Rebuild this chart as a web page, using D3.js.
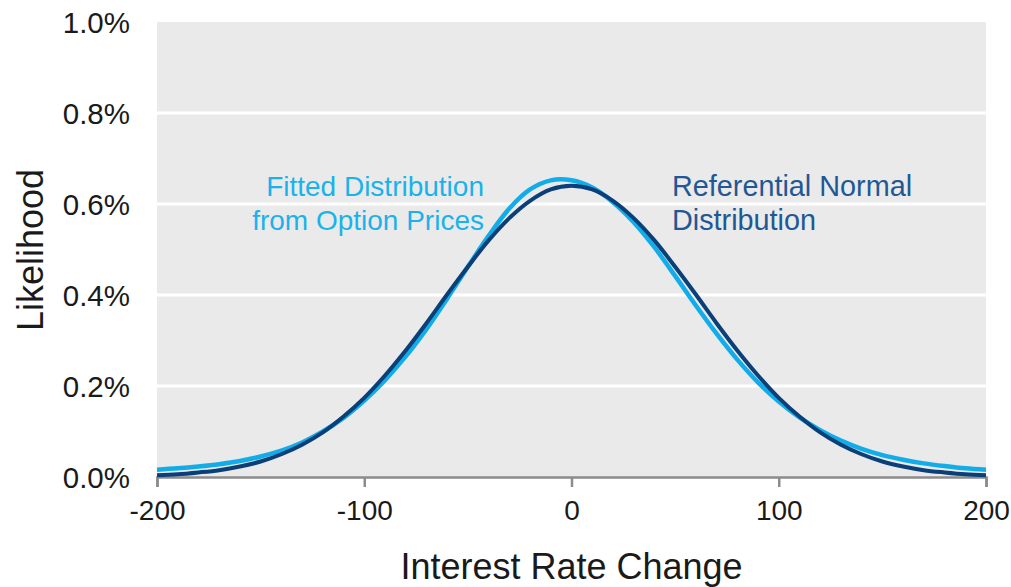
<!DOCTYPE html>
<html>
<head>
<meta charset="utf-8">
<script src="https://cdn.jsdelivr.net/npm/d3@7"></script>
<style>
  body { margin: 0; background: #fff; }
  text { font-family: "Liberation Sans", Arial, sans-serif; }
</style>
</head>
<body>
<div class="main"></div>
<script>
// canvas config
var W = 1011, H = 587;
var margin = {top: 22, right: 25, bottom: 110, left: 157};
var width = W - margin.left - margin.right;   // 829
var height = H - margin.top - margin.bottom;  // 455

// data (x = rate change, y = likelihood in %)
var rateChange = [-200,-190,-180,-170,-160,-150,-140,-130,-120,-110,-100,-90,-80,-70,-60,-50,-40,-30,-20,-10,0,
                  10,20,30,40,50,60,70,80,90,100,110,120,130,140,150,160,170,180,190,200];
var fittedVals = [0.016,0.019,0.023,0.028,0.035,0.045,0.058,0.076,0.100,0.130,0.168,0.213,0.265,0.325,0.392,0.462,0.530,0.590,0.632,0.652,0.652,
                  0.636,0.604,0.560,0.505,0.442,0.377,0.315,0.258,0.208,0.166,0.131,0.103,0.080,0.062,0.048,0.038,0.030,0.024,0.019,0.016];
var normalVals = [0.004,0.006,0.010,0.015,0.023,0.034,0.050,0.071,0.098,0.133,0.174,0.223,0.278,0.338,0.401,0.462,0.520,0.569,0.607,0.632,0.640,
                  0.632,0.607,0.569,0.520,0.462,0.401,0.338,0.278,0.223,0.174,0.133,0.098,0.071,0.050,0.034,0.023,0.015,0.010,0.006,0.004];
var xTicks = [-200,-100,0,100,200];
var yTicks = [0,0.2,0.4,0.6,0.8,1.0];

var svg = d3.select(".main")
  .append("svg")
  .attr("width", W)
  .attr("height", H);
var g = svg.append("g")
  .attr("transform", "translate(" + margin.left + "," + margin.top + ")");

var xScale = d3.scaleLinear().domain([-200, 200]).range([0, width]);
var yScale = d3.scaleLinear().domain([0, 1.0]).range([height, 0]);

// plot background
g.append("rect")
  .attr("x", 0).attr("y", 0)
  .attr("width", width).attr("height", height)
  .style("fill", "#eaeaea");

// white gridlines
g.append("g").attr("class", "grid")
  .selectAll("line")
  .data(yTicks.filter(function(d) { return d > 0 && d < 1; }))
  .enter().append("line")
  .attr("x1", 0).attr("x2", width)
  .attr("y1", function(d) { return yScale(d); })
  .attr("y2", function(d) { return yScale(d); })
  .style("stroke", "#fff")
  .style("stroke-width", 3);

// x axis
var xAxis = d3.axisBottom(xScale).tickValues(xTicks).tickSize(10).tickPadding(13)
  .tickFormat(function(d) { return String(d); });// plain hyphen like the original
var xg = g.append("g")
  .attr("class", "x-axis")
  .attr("transform", "translate(0," + height + ")")
  .call(xAxis);
xg.select(".domain").style("stroke", "#8c8c8c").style("stroke-width", 2.5);
xg.selectAll(".tick line").style("stroke", "#8c8c8c").style("stroke-width", 2.5);
xg.selectAll("text")
  .style("font-size", "28px")
  .style("fill", "#1a1a1a")
  .style("font-family", "'Liberation Sans', Arial, sans-serif");

// y axis (labels only)
var yAxis = d3.axisLeft(yScale).tickValues(yTicks).tickSize(0).tickPadding(27)
  .tickFormat(function(d) { return d.toFixed(1) + "%"; });
var yg = g.append("g")
  .attr("class", "y-axis")
  .call(yAxis);
yg.select(".domain").remove();
yg.selectAll("text")
  .attr("dy", "0.35em")
  .style("font-size", "29.5px")
  .style("fill", "#1a1a1a")
  .style("font-family", "'Liberation Sans', Arial, sans-serif");

// lines
var lineFunc = d3.line()
  .x(function(d) { return xScale(d[0]); })
  .y(function(d) { return yScale(d[1]); })
  .curve(d3.curveCatmullRom);

var fitted = rateChange.map(function(x, i) { return [x, fittedVals[i]]; });
var normal = rateChange.map(function(x, i) { return [x, normalVals[i]]; });

g.append("path")
  .datum(fitted)
  .attr("d", lineFunc)
  .style("fill", "none")
  .style("stroke", "#12ade9")
  .style("stroke-width", 4.5);

g.append("path")
  .datum(normal)
  .attr("d", lineFunc)
  .style("fill", "none")
  .style("stroke", "#0b3f78")
  .style("stroke-width", 4);

// annotations
var fitTxt = g.append("text")
  .attr("text-anchor", "end")
  .attr("transform", "translate(" + (484 - margin.left) + "," + (196 - margin.top) + ")")
  .style("font-size", "28px")
  .style("fill", "#1ab2ea");
fitTxt.append("tspan").attr("x", 0).attr("y", 0).text("Fitted Distribution");
fitTxt.append("tspan").attr("x", 0).attr("y", 34).text("from Option Prices");

var normTxt = g.append("text")
  .attr("text-anchor", "start")
  .attr("transform", "translate(" + (672 - margin.left) + "," + (196 - margin.top) + ")")
  .style("font-size", "28.8px")
  .style("fill", "#1f5894");
normTxt.append("tspan").attr("x", 0).attr("y", 0).text("Referential Normal");
normTxt.append("tspan").attr("x", 0).attr("y", 34).text("Distribution");

// axis titles
svg.append("text")
  .attr("text-anchor", "middle")
  .attr("x", margin.left + width / 2)
  .attr("y", 579)
  .style("font-size", "36px")
  .style("fill", "#1a1a1a")
  .text("Interest Rate Change");

svg.append("text")
  .attr("text-anchor", "middle")
  .attr("transform", "translate(43,250) rotate(-90)")
  .style("font-size", "36px")
  .style("fill", "#1a1a1a")
  .text("Likelihood");
</script>
</body>
</html>
